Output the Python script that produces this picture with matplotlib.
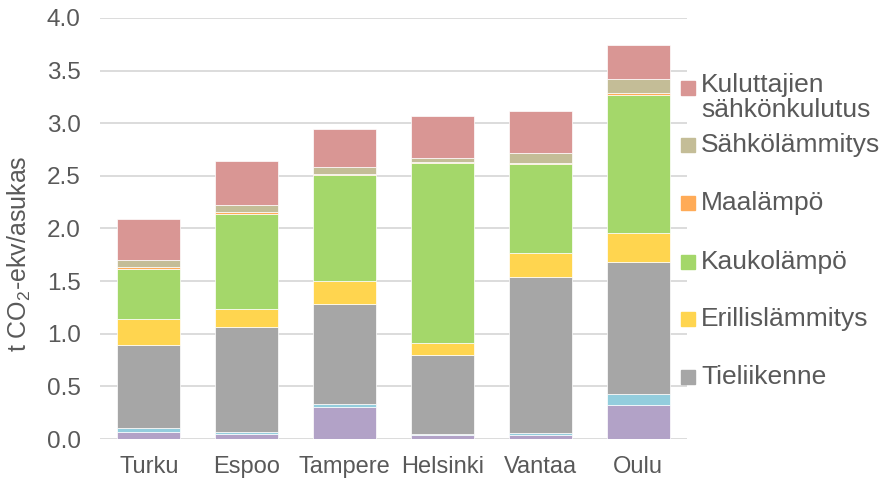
import numpy as np
import matplotlib
matplotlib.use("Agg")
import matplotlib.pyplot as plt
from matplotlib.patches import Rectangle

plt.rcParams['font.family'] = ['Liberation Sans', 'DejaVu Sans']
plt.rcParams['mathtext.fontset'] = 'custom'
plt.rcParams['mathtext.rm'] = 'Liberation Sans'

# =============================================================
# DONNEES (t CO2-ekv/asukas)
# =============================================================
kaupungit = ["Turku", "Espoo", "Tampere", "Helsinki", "Vantaa", "Oulu"]

muu_1           = [0.070, 0.048, 0.300, 0.038, 0.041, 0.320]   # violet (hors legende)
muu_2           = [0.030, 0.016, 0.030, 0.010, 0.016, 0.105]   # bleu clair (hors legende)
tieliikenne     = [0.790, 1.000, 0.953, 0.752, 1.485, 1.260]
erillislammitys = [0.250, 0.171, 0.218, 0.112, 0.225, 0.272]
kaukolampo      = [0.475, 0.905, 1.007, 1.713, 0.846, 1.311]
maalampo        = [0.020, 0.015, 0.010, 0.003, 0.009, 0.019]
sahkolammitys   = [0.070, 0.065, 0.066, 0.042, 0.095, 0.133]
kuluttajat      = [0.385, 0.420, 0.361, 0.400, 0.403, 0.326]

series = [
    (muu_1, None, "#B2A2C7"),
    (muu_2, None, "#93CDDD"),
    (tieliikenne, "Tieliikenne", "#A6A6A6"),
    (erillislammitys, "Erillislämmitys", "#FFD54F"),
    (kaukolampo, "Kaukolämpö", "#A4D76A"),
    (maalampo, "Maalämpö", "#FFAB57"),
    (sahkolammitys, "Sähkölämmitys", "#C4BD97"),
    (kuluttajat, "Kuluttajien\nsähkönkulutus", "#D99694"),
]

gris = "#595959"

fig = plt.figure(figsize=(8.81, 4.78), dpi=100)
ax = fig.add_axes([100 / 881, 39 / 478, 587 / 881, 421 / 478])

x = np.arange(len(kaupungit))
bas = np.zeros(len(kaupungit))
for valeurs, nom, couleur in series:
    ax.bar(x, valeurs, width=0.645, bottom=bas, color=couleur,
           edgecolor="white", linewidth=0.5, zorder=3)
    bas = bas + np.array(valeurs)

ax.set_xlim(-0.5, 5.5)
ax.set_ylim(0, 4.0)
ax.set_yticks(np.arange(0, 4.01, 0.5))
ax.set_yticklabels([f"{v:.1f}" for v in np.arange(0, 4.01, 0.5)])
ax.set_xticks(x)
ax.set_xticklabels(kaupungit)
ax.tick_params(axis="y", length=0, pad=14, labelsize=17.5, labelcolor=gris)
ax.tick_params(axis="x", length=0, pad=12.5, labelsize=17, labelcolor=gris)
ax.grid(axis="y", color="#D9D9D9", linewidth=1.3, zorder=0)
for cote in ["left", "right", "top", "bottom"]:
    ax.spines[cote].set_visible(False)

ax.set_ylabel("t CO$_\\mathregular{2}$-ekv/asukas", fontsize=18, color=gris)
ax.yaxis.set_label_coords(-0.114, 0.44)

# Legende a droite (ordre inverse de l'empilement)
legende_y = [88, 145, 203, 262, 319, 377]
legende = [s for s in series if s[1] is not None][::-1]
for (valeurs, nom, couleur), yp in zip(legende, legende_y):
    yf = 1 - yp / 478
    fig.add_artist(Rectangle((681 / 881, yf - 7 / 478), 14 / 881, 14 / 478,
                             transform=fig.transFigure, color=couleur))
    if "\n" in nom:
        fig.text(701 / 881, yf + 15 / 478, nom, fontsize=19, color=gris,
                 va="top", ha="left", linespacing=1.05)
    else:
        fig.text(701 / 881, yf, nom, fontsize=19, color=gris,
                 va="center", ha="left")

plt.savefig("out.png", dpi=100)
